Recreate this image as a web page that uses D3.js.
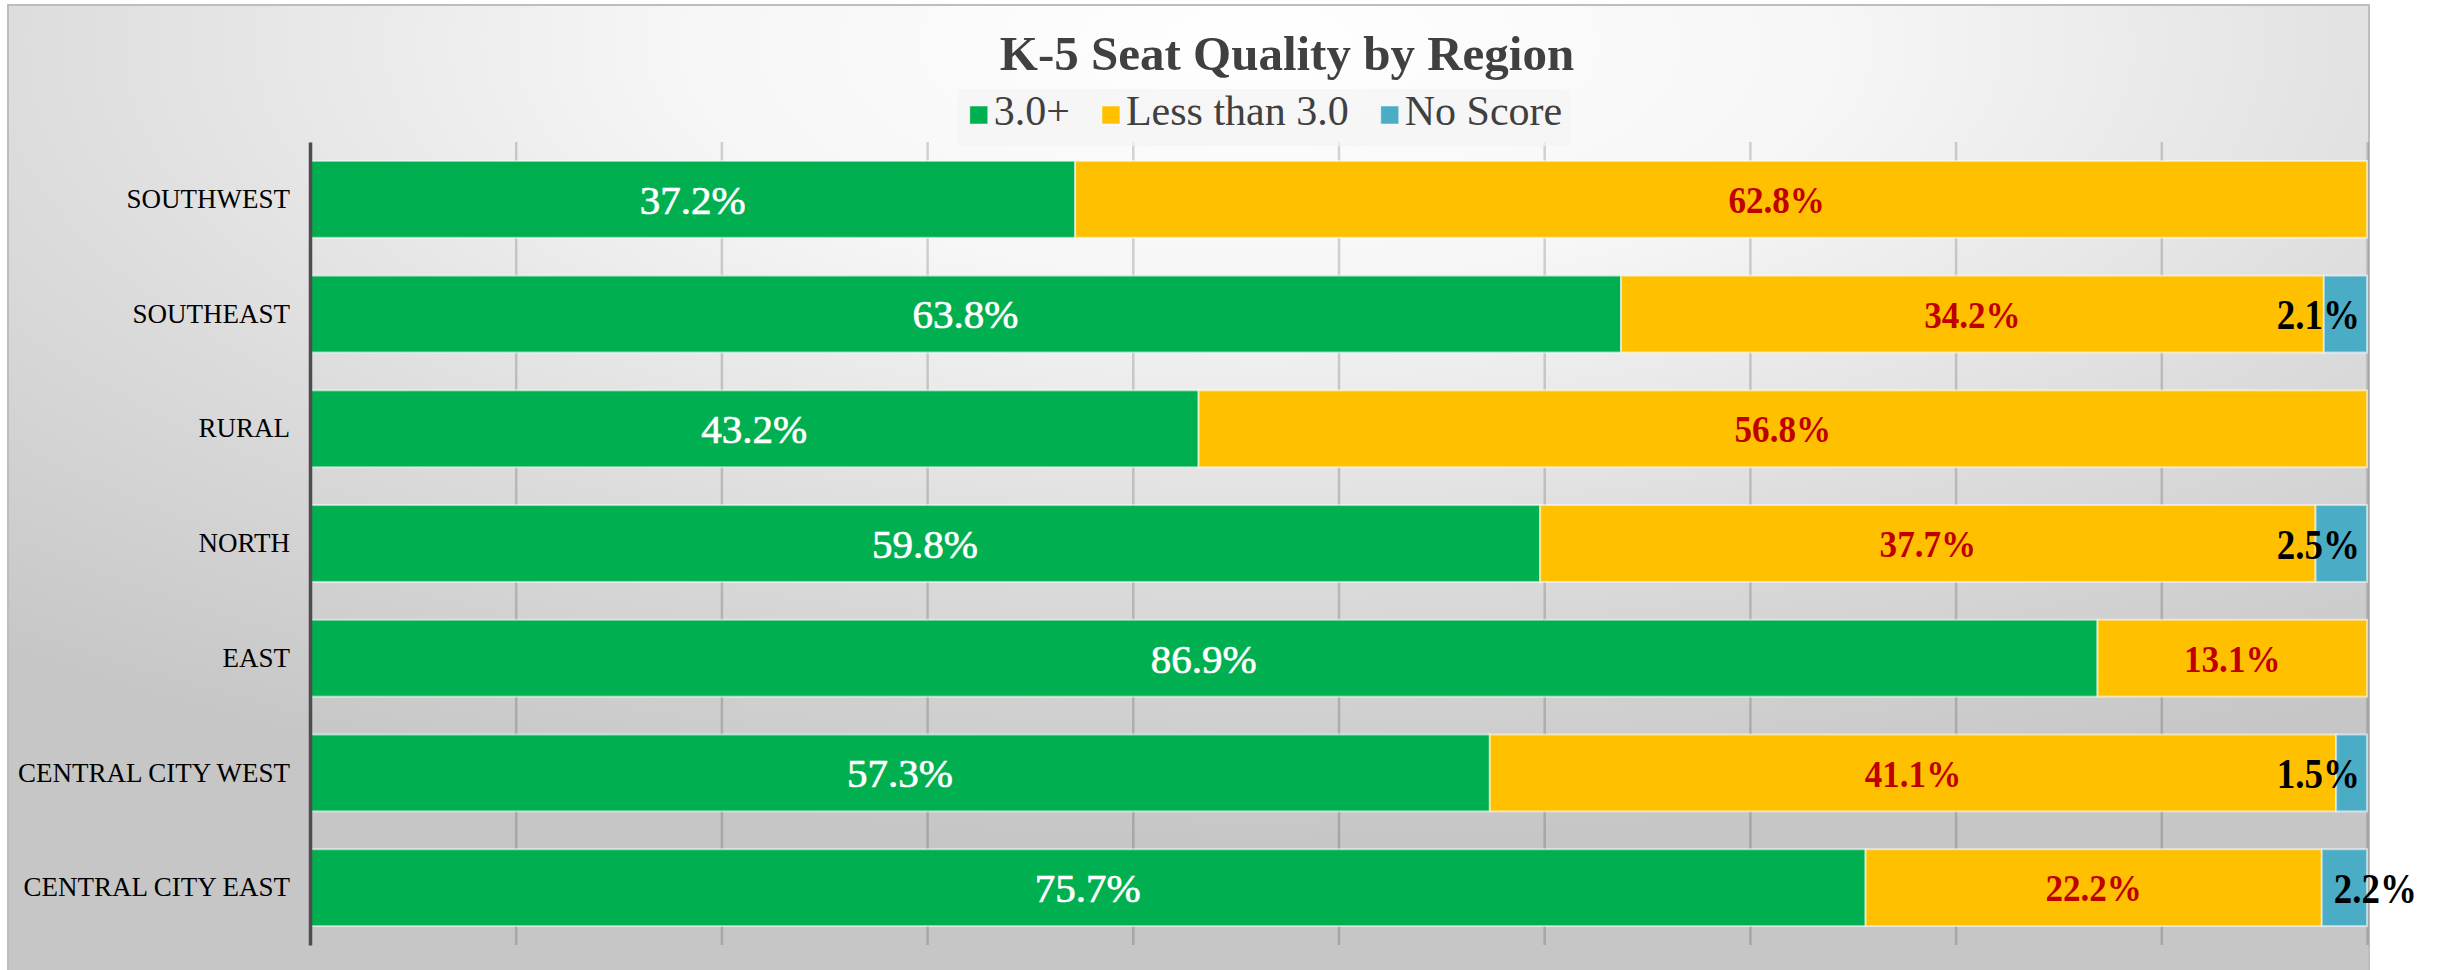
<!DOCTYPE html>
<html>
<head>
<meta charset="utf-8">
<script src="https://cdn.jsdelivr.net/npm/d3@7"></script>
<style>
  html, body { margin: 0; padding: 0; background: #ffffff; }
  svg { display: block; }
</style>
</head>
<body>
<svg id="chart" width="2443" height="970"></svg>
<script>
// ---------------- DATA ----------------
const categories = ["SOUTHWEST", "SOUTHEAST", "RURAL", "NORTH", "EAST", "CENTRAL CITY WEST", "CENTRAL CITY EAST"];
const seriesNames = ["3.0+", "Less than 3.0", "No Score"];
const seatsGood = [37.2, 63.8, 43.2, 59.8, 86.9, 57.3, 75.7];
const seatsLess = [62.8, 34.2, 56.8, 37.7, 13.1, 41.1, 22.2];
const seatsNoScore = [0, 2.1, 0, 2.5, 0, 1.5, 2.2];
const gridTicks = [0, 0.1, 0.2, 0.3, 0.4, 0.5, 0.6, 0.7, 0.8, 0.9, 1.0];
const titleText = "K-5 Seat Quality by Region";

// ---------------- STYLE ----------------
const colors = ["#00B050", "#FFC000", "#4BACC6"];
const serif = "'Liberation Serif', 'Times New Roman', serif";

const svg = d3.select("#chart");
const frame = { x: 8, y: 5, w: 2361, h: 975 };
const plot = { left: 310, right: 2367, top: 142, bottom: 945 };

// background gradient
const defs = svg.append("defs");
const grad = defs.append("radialGradient")
  .attr("id", "bg").attr("cx", 0.53).attr("cy", 0.04).attr("r", 0.82)
  .attr("fx", 0.53).attr("fy", 0.04);
grad.append("stop").attr("offset", 0).attr("stop-color", "#ffffff");
grad.append("stop").attr("offset", 0.3).attr("stop-color", "#f6f6f6");
grad.append("stop").attr("offset", 0.65).attr("stop-color", "#dcdcdc");
grad.append("stop").attr("offset", 1).attr("stop-color", "#c6c6c6");

svg.append("rect")
  .attr("x", frame.x).attr("y", frame.y).attr("width", frame.w).attr("height", frame.h)
  .attr("fill", "url(#bg)").attr("stroke", "#bdbdbd").attr("stroke-width", 2);

// ---------------- SCALES ----------------
const rows = categories.map((c, i) => ({
  cat: c,
  "3.0+": seatsGood[i],
  "Less than 3.0": seatsLess[i],
  "No Score": seatsNoScore[i]
}));
const stacked = d3.stack().keys(seriesNames).offset(d3.stackOffsetExpand)(rows);

const x = d3.scaleLinear().domain([0, 1]).range([plot.left, plot.right]);
const y = d3.scaleBand().domain(categories).range([plot.top, plot.bottom])
  .paddingInner(0.33).paddingOuter(0.165);

// gridlines
const grid = svg.append("g")
  .attr("transform", `translate(0,${plot.bottom})`)
  .call(d3.axisBottom(x).tickValues(gridTicks.slice(1)).tickSize(-(plot.bottom - plot.top)).tickFormat(""));
grid.select(".domain").remove();
grid.selectAll(".tick line").attr("stroke", "rgba(0,0,0,0.16)").attr("stroke-width", 2.5);

// ---------------- BARS ----------------
const layers = svg.append("g").selectAll("g").data(stacked).join("g")
  .attr("fill", (d, i) => colors[i]);
layers.selectAll("rect").data(d => d.filter(s => s[1] - s[0] > 0)).join("rect")
  .attr("x", d => x(d[0]))
  .attr("y", d => y(d.data.cat))
  .attr("width", d => x(d[1]) - x(d[0]))
  .attr("height", y.bandwidth())
  .attr("stroke", "rgba(255,255,255,0.55)")
  .attr("stroke-width", 2);

// ---------------- Y AXIS ----------------
const yAxis = svg.append("g")
  .attr("transform", `translate(${plot.left},0)`)
  .call(d3.axisLeft(y).tickSize(0).tickSizeOuter(0).tickPadding(20));
yAxis.select(".domain").attr("stroke", "#4d4d4d").attr("stroke-width", 3.5);
yAxis.selectAll("text")
  .attr("font-family", serif).attr("font-size", 27).attr("fill", "#000");

// ---------------- VALUE LABELS ----------------
// label nudges (as moved by hand in the original chart), in plot fractions
const labelNudge = { "SOUTHWEST|Less than 3.0": 0.027 };
const lab = svg.append("g");
stacked.forEach((layer, si) => {
  layer.forEach((seg, ci) => {
    const raw = [seatsGood, seatsLess, seatsNoScore][si][ci];
    if (!(raw > 0)) return;
    const cy = y(categories[ci]) + y.bandwidth() / 2;
    const txt = raw.toFixed(1) + "%";
    const nudge = labelNudge[categories[ci] + "|" + seriesNames[si]] || 0;
    if (si === 0) {
      lab.append("text")
        .attr("x", (x(seg[0]) + x(seg[1])) / 2).attr("y", cy).attr("dy", "0.35em")
        .attr("text-anchor", "middle")
        .attr("font-family", serif).attr("font-size", 41).attr("fill", "#ffffff")
        .attr("stroke", "#ffffff").attr("stroke-width", 0.7)
        .text(txt);
    } else if (si === 1) {
      const cx = (x(seg[0] + nudge) + x(seg[1] + nudge)) / 2;
      lab.append("text")
        .attr("transform", `translate(${cx},${cy}) scale(0.9,1)`)
        .attr("dy", "0.35em").attr("text-anchor", "middle")
        .attr("font-family", serif).attr("font-weight", "bold").attr("font-size", 39)
        .attr("fill", "#C00000")
        .text(txt);
    } else {
      const last = ci === categories.length - 1;
      const px = last ? x(seg[0]) + 12 : x(1) - 7;
      lab.append("text")
        .attr("transform", `translate(${px},${cy}) scale(0.86,1)`)
        .attr("dy", "0.35em").attr("text-anchor", last ? "start" : "end")
        .attr("font-family", serif).attr("font-weight", "bold").attr("font-size", 43)
        .attr("fill", "#000000")
        .text(txt);
    }
  });
});

// ---------------- TITLE ----------------
svg.append("text")
  .attr("x", 1287).attr("y", 70).attr("text-anchor", "middle")
  .attr("font-family", serif).attr("font-weight", "bold").attr("font-size", 49)
  .attr("fill", "#404040")
  .text(titleText);

// ---------------- LEGEND ----------------
const legBox = svg.append("rect").attr("fill", "#f3f3f3").attr("opacity", 0.7);
const leg = svg.append("g");
let cursor = 0;
const sq = 18, gapSq = 6, gapItem = 32;
seriesNames.forEach((name, i) => {
  leg.append("rect").attr("x", cursor).attr("y", -sq - 1).attr("width", sq).attr("height", sq)
    .attr("fill", colors[i]).attr("stroke", "rgba(255,255,255,0.5)").attr("stroke-width", 1);
  cursor += sq + gapSq;
  const t = leg.append("text").attr("x", cursor).attr("y", 0)
    .attr("font-family", serif).attr("font-size", 42).attr("fill", "#404040").text(name);
  cursor += t.node().getComputedTextLength();
  if (i < seriesNames.length - 1) cursor += gapItem;
});
const legX = 1266 - cursor / 2;
leg.attr("transform", `translate(${legX},125)`);
legBox.attr("x", legX - 12).attr("y", 89).attr("width", cursor + 20).attr("height", 57);
</script>
</body>
</html>
